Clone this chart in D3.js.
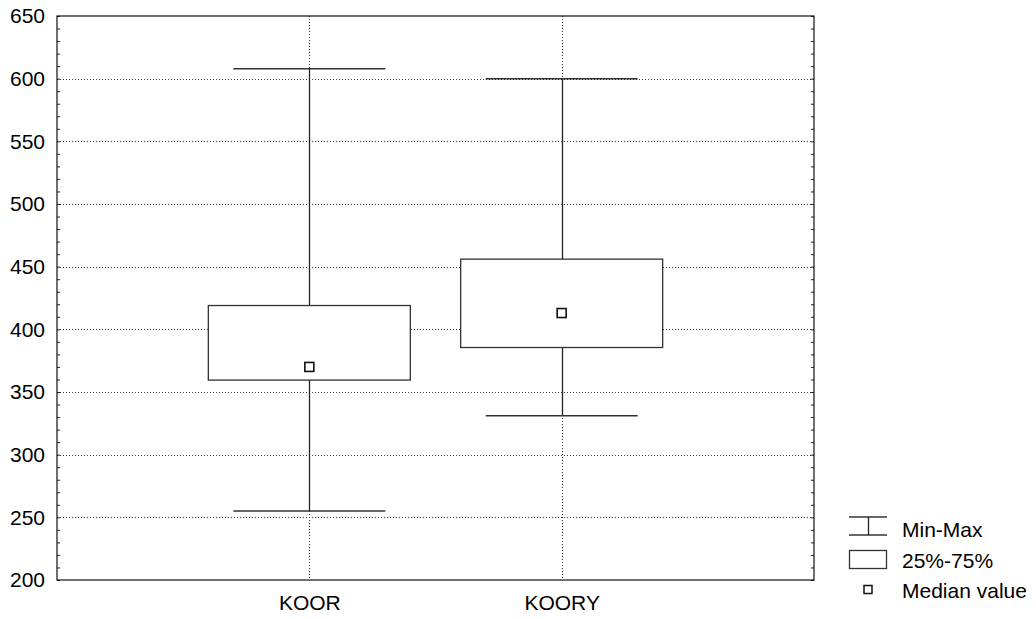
<!DOCTYPE html>
<html>
<head>
<meta charset="utf-8">
<script src="https://cdn.jsdelivr.net/npm/d3@7"></script>
<style>
  body { margin: 0; background: #fff; }
  text { font-family: "Liberation Sans", Arial, sans-serif; fill: #000; }
</style>
</head>
<body>
<div id="chart"></div>
<script>
var categories = ["KOOR", "KOORY"];
var minValues = [255, 331];
var q1Values = [359.5, 385.5];
var medianValues = [370, 413];
var q3Values = [419, 456];
var maxValues = [608, 600];
var yTicks = [200, 250, 300, 350, 400, 450, 500, 550, 600, 650];
var legendLabels = ["Min-Max", "25%-75%", "Median value"];

var width = 1036, height = 619;
var margin = {top: 16, right: 222, bottom: 39, left: 57};
var innerWidth = width - margin.left - margin.right,
    innerHeight = height - margin.top - margin.bottom;
var fontSize = "21px";

var data = categories.map(function (c, i) {
  return {name: c, min: minValues[i], q1: q1Values[i], med: medianValues[i], q3: q3Values[i], max: maxValues[i]};
});

var svg = d3.select("#chart").append("svg")
    .attr("width", width)
    .attr("height", height);

var g = svg.append("g")
    .attr("transform", "translate(" + margin.left + "," + margin.top + ")");

var xScale = d3.scalePoint().domain(categories).range([0, innerWidth]).padding(1);
var yScale = d3.scaleLinear().domain([200, 650]).range([innerHeight, 0]);

var boxHalf = 101, whiskerHalf = 76, medSize = 9;

// grid lines
g.selectAll(".hgrid")
    .data(yTicks.filter(function (t) { return t > 200 && t < 650; }))
  .enter().append("line")
    .attr("x1", 0).attr("x2", innerWidth)
    .attr("y1", function (d) { return Math.round(yScale(d)) + 0.5; })
    .attr("y2", function (d) { return Math.round(yScale(d)) + 0.5; })
    .attr("stroke", "#333").attr("stroke-width", 1)
    .attr("stroke-dasharray", "1,2");

g.selectAll(".vgrid")
    .data(categories)
  .enter().append("line")
    .attr("x1", function (d) { return Math.round(xScale(d)) + 0.5; })
    .attr("x2", function (d) { return Math.round(xScale(d)) + 0.5; })
    .attr("y1", 0).attr("y2", innerHeight)
    .attr("stroke", "#333").attr("stroke-width", 1)
    .attr("stroke-dasharray", "1,2");

// axes: left labels + inner ticks on both sides
var yAxisL = d3.axisLeft(yScale).tickValues(yTicks).tickSize(0).tickPadding(12);
g.append("g").call(yAxisL)
    .call(function (s) { s.select(".domain").remove(); })
    .selectAll("text").style("font-size", fontSize).attr("fill", "#000");

var minorTicks = d3.range(200, 651, 10);
g.append("g").call(d3.axisRight(yScale).tickValues(minorTicks).tickSize(3).tickFormat(""))
    .call(function (s) { s.select(".domain").remove(); s.selectAll("line").attr("stroke", "#222"); });
g.append("g").attr("transform", "translate(" + innerWidth + ",0)")
    .call(d3.axisLeft(yScale).tickValues(minorTicks).tickSize(3).tickFormat(""))
    .call(function (s) { s.select(".domain").remove(); s.selectAll("line").attr("stroke", "#222"); });

// x labels
g.append("g").attr("transform", "translate(0," + innerHeight + ")")
    .call(d3.axisBottom(xScale).tickSize(0).tickPadding(15))
    .call(function (s) { s.select(".domain").remove(); })
    .selectAll("text").style("font-size", fontSize).attr("fill", "#000");

// whiskers
var boxes = g.selectAll(".box").data(data).enter().append("g").attr("class", "box");

boxes.append("line")
    .attr("x1", function (d) { return Math.round(xScale(d.name)) + 0.5; })
    .attr("x2", function (d) { return Math.round(xScale(d.name)) + 0.5; })
    .attr("y1", function (d) { return yScale(d.max); })
    .attr("y2", function (d) { return yScale(d.min); })
    .attr("stroke", "#222").attr("stroke-width", 1.3);

["min", "max"].forEach(function (k) {
  boxes.append("line")
      .attr("x1", function (d) { return xScale(d.name) - whiskerHalf; })
      .attr("x2", function (d) { return xScale(d.name) + whiskerHalf; })
      .attr("y1", function (d) { return yScale(d[k]); })
      .attr("y2", function (d) { return yScale(d[k]); })
      .attr("stroke", "#333").attr("stroke-width", 1.5);
});

boxes.append("rect")
    .attr("x", function (d) { return xScale(d.name) - boxHalf; })
    .attr("y", function (d) { return yScale(d.q3); })
    .attr("width", boxHalf * 2)
    .attr("height", function (d) { return yScale(d.q1) - yScale(d.q3); })
    .attr("fill", "#fff").attr("stroke", "#333").attr("stroke-width", 1.3);

boxes.append("rect")
    .attr("x", function (d) { return xScale(d.name) - medSize / 2; })
    .attr("y", function (d) { return yScale(d.med) - medSize / 2; })
    .attr("width", medSize).attr("height", medSize)
    .attr("fill", "#fff").attr("stroke", "#111").attr("stroke-width", 1.6);

// frame
g.append("rect")
    .attr("x", 0).attr("y", 0)
    .attr("width", innerWidth).attr("height", innerHeight)
    .attr("fill", "none").attr("stroke", "#111").attr("stroke-width", 1.2);

// legend
var legend = svg.append("g").attr("transform", "translate(849,0)");
legend.append("line").attr("x1", 0).attr("x2", 38).attr("y1", 517).attr("y2", 517).attr("stroke", "#333").attr("stroke-width", 1.3);
legend.append("line").attr("x1", 0).attr("x2", 38).attr("y1", 535).attr("y2", 535).attr("stroke", "#333").attr("stroke-width", 1.3);
legend.append("line").attr("x1", 19.5).attr("x2", 19.5).attr("y1", 517).attr("y2", 535).attr("stroke", "#222").attr("stroke-width", 1.3);
legend.append("rect").attr("x", 0.5).attr("y", 550.5).attr("width", 37).attr("height", 18)
    .attr("fill", "#fff").attr("stroke", "#333").attr("stroke-width", 1.3);
legend.append("rect").attr("x", 15).attr("y", 585.5).attr("width", 8).attr("height", 8)
    .attr("fill", "#fff").attr("stroke", "#111").attr("stroke-width", 1.5);

legend.selectAll(".ltext").data(legendLabels).enter().append("text")
    .attr("x", 53)
    .attr("y", function (d, i) { return [530, 561, 591][i]; })
    .attr("dy", "0.35em")
    .style("font-size", fontSize)
    .text(function (d) { return d; });
</script>
</body>
</html>
